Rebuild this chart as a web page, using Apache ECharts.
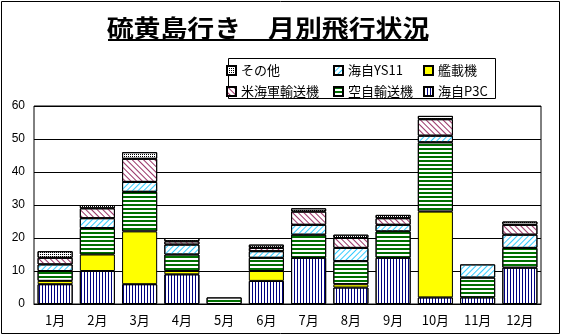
<!DOCTYPE html>
<html><head><meta charset="utf-8">
<script src="https://cdn.jsdelivr.net/npm/echarts@6/dist/echarts.min.js"></script>
<style>html,body{margin:0;padding:0;background:#fff}#c{width:562px;height:336px}</style>
</head><body><div id="c"></div>
<script>
const months = ['1月','2月','3月','4月','5月','6月','7月','8月','9月','10月','11月','12月'];
const p3c    = [6,10,6,9,0,7,14,5,14,2,2,11];   // 海自P3C
const kansai = [1,5,16,1,0,3,0,1,0,26,0,0];     // 艦載機
const kuji   = [3,8,12,5,2,4,7,7,8,21,6,6];     // 空自輸送機
const ys11   = [2,3,3,3,0,2,3,4,2,2,4,4];       // 海自YS11
const beikai = [2,3,7,1,0,1,4,3,2,5,0,3];       // 米海軍輸送機
const other  = [2,1,2,1,0,1,1,1,1,1,0,1];       // その他
const yTicks = [0,10,20,30,40,50,60];

const FONT = '"Noto Sans CJK JP", "Noto Sans", sans-serif';
const chart = echarts.init(document.getElementById('c'));
function mk(name, data, color, decal) {
  const s = {
    name, type: 'bar', stack: 'a', barWidth: '83%',
    data: data.map(v => v === 0 ? '-' : v),
    itemStyle: { color, borderColor: '#000', borderWidth: 1 }
  };
  if (decal) s.itemStyle.decal = decal;
  return s;
}
const series = [
  mk('海自P3C', p3c, '#ffffff', {symbol:'rect', symbolSize:1, color:'#000080', dashArrayX:[1,2], dashArrayY:[4,0]}),
  mk('艦載機', kansai, '#ffff00', null),
  mk('空自輸送機', kuji, '#ffffff', {symbol:'rect', symbolSize:1, color:'#007000', dashArrayX:[4,0], dashArrayY:[2,2]}),
  mk('海自YS11', ys11, '#ffffff', {symbol:'rect', symbolSize:1, color:'#33ccff', dashArrayX:[1,3], dashArrayY:[4,0], rotation:Math.PI/4}),
  mk('米海軍輸送機', beikai, '#ffffff', {symbol:'rect', symbolSize:1, color:'#993366', dashArrayX:[1,3], dashArrayY:[4,0], rotation:-Math.PI/4}),
  mk('その他', other, '#ffffff', {symbol:'rect', symbolSize:1, color:'#000000', dashArrayX:[1,1], dashArrayY:[1,1]})
];
const legendBase = {
  orient: 'vertical', top: 64, itemWidth: 9, itemHeight: 9, itemGap: 8, padding: 0,
  icon: 'rect', selectedMode: false,
  textStyle: { fontSize: 13, color: '#000', fontFamily: FONT }
};
chart.setOption({
  animation: false,
  backgroundColor: '#fff',
  textStyle: { fontFamily: FONT },
  grid: { left: 34, right: 21, top: 106, bottom: 32, show: true, borderColor: '#000', borderWidth: 1, backgroundColor: 'transparent' },
  legend: [
    Object.assign({}, legendBase, { left: 226, data: ['その他', '米海軍輸送機'] }),
    Object.assign({}, legendBase, { left: 333, data: ['海自YS11', '空自輸送機'] }),
    Object.assign({}, legendBase, { left: 423, data: ['艦載機', '海自P3C'] })
  ],
  xAxis: {
    type: 'category', data: months,
    axisTick: { show: false },
    axisLine: { lineStyle: { color: '#000' } },
    axisLabel: { color: '#000', fontSize: 13, margin: 10 }
  },
  yAxis: {
    type: 'value', min: yTicks[0], max: yTicks[yTicks.length-1], interval: 10,
    axisLine: { show: false }, axisTick: { show: false },
    axisLabel: { color: '#000', fontSize: 12, margin: 9, fontFamily: 'Arial, "Liberation Sans", sans-serif' },
    splitLine: { lineStyle: { color: '#000', width: 1 } }
  },
  series,
  graphic: [
    { type: 'rect', shape: { x: 1.5, y: 1.5, width: 558, height: 332 }, style: { fill: 'none', stroke: '#000', lineWidth: 1 }, silent: true, z: -1 },
    { type: 'rect', shape: { x: 228.5, y: 58.5, width: 267, height: 40 }, style: { fill: '#fff', stroke: '#000', lineWidth: 1 }, silent: true, z: -1 },
    { type: 'text', x: 268, y: 28, scaleX: 1.12, style: { text: '硫黄島行き　月別飛行状況', font: 'bold 24px "Noto Sans CJK JP"', fill: '#000', textAlign: 'center', textVerticalAlign: 'middle' }, silent: true },
    { type: 'rect', shape: { x: 108, y: 39, width: 320, height: 2 }, style: { fill: '#000' }, silent: true }
  ]
});
</script></body></html>
